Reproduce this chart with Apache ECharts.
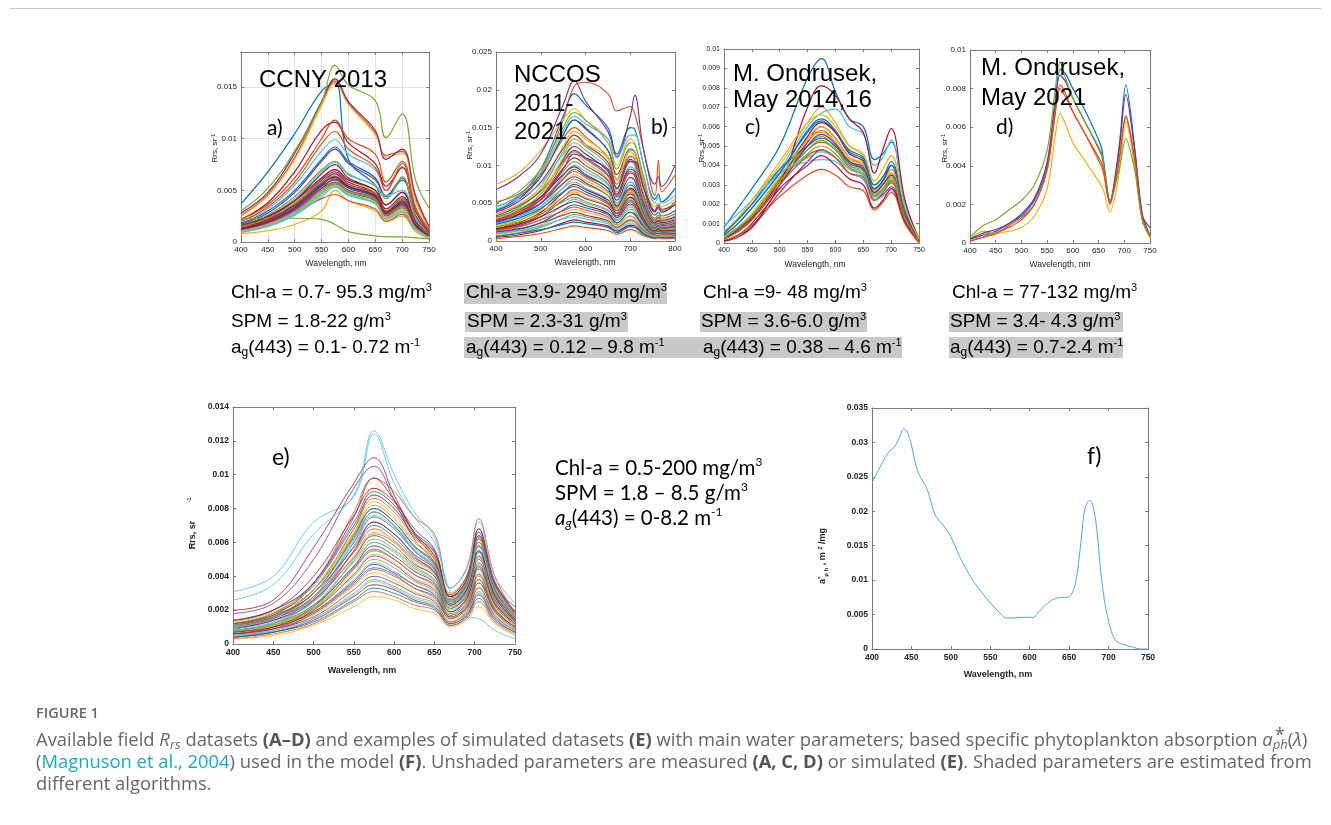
<!DOCTYPE html>
<html>
<head>
<meta charset="utf-8">
<title>Figure 1</title>
<script src="https://cdn.jsdelivr.net/npm/echarts@6/dist/echarts.min.js"></script>
<style>
  html, body { margin: 0; padding: 0; background: #fff; }
  #fig { width: 1331px; height: 825px; }
</style>
</head>
<body>
<div id="fig"></div>
<script>
// all Rrs / absorption values are in units of 1e-4 (labels divide back)

// a) CCNY 2013
const WL_A = [400, 450, 500, 550, 575, 600, 650, 670, 700, 725, 750];
const RRS_A = [
  [37, 68, 105, 146, 154, 80, 55, 36, 48, 20, 10],
  [26, 46, 82, 135, 156, 135, 106, 84, 88, 42, 14],
  [25, 45, 80, 132, 154, 133, 104, 82, 86, 40, 13],
  [28, 48, 86, 136, 158, 136, 108, 80, 90, 45, 15],
  [30, 52, 88, 135, 171, 152, 137, 101, 124, 60, 33],
  [20, 32, 55, 88, 99, 85, 70, 50, 73, 30, 10],
  [22, 38, 68, 108, 116, 96, 76, 54, 72, 30, 10],
  [18, 30, 50, 80, 92, 78, 62, 44, 60, 25, 8],
  [22, 36, 62, 100, 118, 100, 85, 58, 78, 34, 12],
  [14, 22, 38, 62, 70, 60, 48, 30, 40, 18, 6],
  [17, 28, 48, 78, 90, 76, 60, 45, 62, 26, 9],
  [16, 26, 44, 70, 78, 66, 54, 42, 63, 24, 8],
  [15, 25, 42, 68, 77, 65, 55, 45, 50, 22, 8],
  [15, 24, 40, 66, 75, 62, 50, 36, 48, 20, 7],
  [12, 20, 34, 56, 63, 54, 45, 28, 38, 16, 6],
  [20, 34, 58, 95, 107, 90, 72, 50, 76, 32, 11],
  [8, 11, 17, 30, 50, 40, 30, 20, 25, 10, 4],
  [13, 22, 37, 60, 68, 58, 47, 30, 42, 17, 6],
  [22, 23, 23, 22, 17, 10, 6, 5, 5, 4, 3],
  [11, 18, 30, 50, 58, 50, 42, 27, 36, 15, 5],
  [14, 22, 36, 58, 66, 56, 46, 29, 40, 17, 7],
  [10, 16, 28, 48, 56, 48, 40, 25, 33, 14, 5],
  [12, 18, 28, 42, 46, 40, 32, 20, 27, 12, 5],
  [9, 15, 26, 46, 55, 47, 38, 24, 32, 13, 4],
  [13, 21, 35, 57, 62, 53, 44, 28, 37, 16, 6],
  [11, 17, 29, 50, 57, 49, 41, 26, 34, 15, 5],
  [10, 15, 26, 44, 53, 45, 37, 23, 30, 13, 4],
  [16, 25, 40, 62, 70, 60, 50, 32, 44, 19, 8],
  [12, 19, 32, 54, 60, 52, 43, 27, 36, 15, 6],
  [14, 20, 33, 52, 58, 50, 42, 26, 35, 16, 7],
  [11, 17, 28, 48, 55, 47, 38, 24, 31, 13, 5],
  [12, 19, 31, 52, 61, 53, 44, 28, 38, 16, 6],
  [15, 23, 37, 58, 64, 55, 46, 30, 41, 18, 7],
  [10, 16, 27, 47, 54, 46, 37, 22, 29, 12, 4],
  [13, 20, 33, 55, 63, 54, 45, 29, 39, 17, 6]
];

// b) NCCOS 2011-2021
const WL_B = [400, 450, 500, 550, 575, 600, 650, 670, 700, 710, 730, 755, 763, 770, 800];
const RRS_B = [
  [45, 60, 95, 165, 195, 180, 150, 115, 150, 148, 100, 55, 62, 52, 70],
  [40, 55, 90, 160, 205, 210, 195, 172, 178, 168, 120, 60, 107, 65, 87],
  [75, 90, 120, 160, 175, 160, 135, 100, 135, 130, 85, 40, 45, 38, 50],
  [68, 85, 115, 180, 212, 185, 145, 112, 165, 193, 120, 75, 85, 72, 100],
  [50, 65, 95, 150, 170, 160, 130, 95, 130, 128, 85, 40, 46, 40, 52],
  [45, 60, 90, 145, 165, 155, 135, 110, 140, 140, 100, 50, 58, 50, 60],
  [40, 55, 85, 140, 160, 150, 120, 88, 120, 118, 78, 38, 44, 38, 48],
  [40, 58, 85, 140, 160, 148, 120, 82, 122, 118, 70, 34, 38, 33, 40],
  [52, 62, 88, 135, 150, 138, 110, 75, 112, 108, 62, 30, 34, 30, 36],
  [35, 48, 72, 125, 145, 135, 112, 80, 118, 112, 60, 28, 32, 28, 33],
  [38, 52, 78, 122, 140, 128, 104, 70, 108, 104, 58, 27, 31, 27, 32],
  [30, 44, 68, 118, 135, 125, 100, 68, 106, 100, 55, 26, 30, 26, 30],
  [42, 55, 76, 115, 130, 120, 95, 65, 98, 95, 52, 25, 28, 25, 30],
  [28, 40, 62, 108, 125, 115, 92, 62, 95, 92, 50, 24, 27, 24, 28],
  [33, 46, 66, 105, 120, 110, 88, 58, 90, 86, 46, 22, 25, 22, 26],
  [25, 36, 58, 102, 118, 108, 86, 60, 92, 88, 48, 22, 26, 22, 25],
  [36, 48, 68, 102, 115, 104, 82, 54, 84, 80, 42, 20, 24, 20, 24],
  [27, 38, 58, 96, 110, 100, 80, 54, 84, 80, 42, 20, 23, 20, 23],
  [30, 40, 58, 92, 105, 96, 76, 50, 78, 74, 40, 19, 22, 19, 22],
  [22, 32, 50, 86, 100, 92, 74, 50, 78, 74, 40, 19, 22, 19, 21],
  [31, 42, 58, 88, 98, 88, 70, 46, 70, 66, 35, 17, 20, 17, 20],
  [24, 34, 50, 82, 95, 86, 70, 47, 74, 70, 37, 17, 20, 17, 19],
  [28, 38, 54, 82, 92, 84, 66, 44, 68, 64, 34, 16, 19, 16, 18],
  [20, 30, 46, 76, 88, 80, 64, 43, 66, 62, 33, 15, 18, 15, 17],
  [26, 35, 50, 76, 85, 77, 60, 40, 62, 58, 31, 14, 17, 14, 16],
  [18, 27, 42, 70, 82, 75, 60, 41, 64, 60, 32, 15, 17, 15, 16],
  [24, 32, 46, 70, 78, 70, 55, 36, 56, 52, 28, 13, 15, 13, 15],
  [16, 24, 38, 64, 75, 68, 54, 37, 58, 54, 29, 13, 16, 13, 14],
  [22, 30, 43, 65, 72, 65, 51, 33, 52, 48, 26, 12, 14, 12, 13],
  [15, 22, 35, 58, 68, 62, 49, 34, 54, 50, 27, 12, 14, 12, 13],
  [20, 28, 40, 58, 65, 58, 46, 30, 47, 44, 24, 11, 13, 11, 12],
  [14, 20, 32, 54, 62, 56, 45, 31, 49, 46, 25, 11, 13, 11, 12],
  [18, 25, 36, 52, 58, 52, 41, 27, 42, 39, 21, 10, 11, 10, 11],
  [12, 18, 28, 47, 55, 50, 40, 28, 45, 42, 22, 10, 12, 10, 11],
  [16, 22, 32, 47, 52, 47, 37, 24, 38, 35, 19, 9, 10, 9, 10],
  [10, 15, 24, 41, 48, 44, 35, 24, 38, 36, 19, 8, 10, 8, 9],
  [14, 19, 28, 40, 45, 41, 32, 21, 33, 30, 16, 8, 9, 8, 9],
  [9, 13, 21, 36, 42, 38, 30, 21, 33, 31, 16, 7, 9, 7, 8],
  [12, 16, 24, 34, 38, 34, 27, 18, 28, 26, 14, 6, 7, 6, 7],
  [7, 11, 18, 30, 35, 32, 25, 17, 27, 25, 13, 6, 7, 6, 6],
  [10, 14, 20, 29, 32, 29, 23, 15, 24, 22, 12, 5, 6, 5, 6],
  [5, 8, 14, 24, 28, 25, 20, 13, 21, 20, 10, 4, 5, 4, 5],
  [6, 10, 15, 22, 25, 23, 18, 11, 19, 18, 9, 4, 5, 4, 4],
  [3, 6, 10, 17, 20, 18, 14, 9, 15, 14, 7, 3, 4, 3, 3],
  [30, 42, 62, 110, 135, 128, 110, 82, 120, 118, 80, 45, 50, 46, 55],
  [25, 35, 55, 95, 115, 110, 95, 70, 105, 105, 70, 40, 48, 42, 48]
];

// c) M. Ondrusek, May 2014,16
const WL_C = [400, 425, 450, 500, 550, 575, 600, 625, 650, 670, 685, 700, 725, 750];
const RRS_C = [
  [8, 18, 28, 50, 85, 95, 78, 64, 60, 43, 46, 52, 20, 2],
  [3, 8, 14, 33, 52, 58, 52, 42, 38, 26, 30, 36, 14, 1],
  [5, 12, 22, 40, 62, 70, 62, 50, 45, 30, 34, 40, 16, 2],
  [2, 6, 12, 30, 52, 60, 54, 44, 40, 28, 32, 38, 15, 1],
  [3, 8, 15, 34, 50, 55, 49, 40, 36, 25, 28, 33, 13, 1],
  [6, 12, 20, 38, 60, 67, 69, 60, 56, 40, 44, 53, 20, 2],
  [1, 4, 10, 30, 70, 81, 76, 64, 57, 36, 48, 59, 22, 2],
  [4, 10, 18, 36, 57, 63, 57, 48, 44, 30, 34, 42, 17, 1],
  [2, 7, 14, 32, 48, 52, 48, 39, 35, 24, 27, 32, 12, 1],
  [4, 10, 18, 36, 54, 60, 54, 44, 41, 28, 32, 38, 15, 1],
  [1, 4, 8, 26, 42, 48, 44, 36, 33, 22, 25, 29, 11, 1],
  [2, 6, 13, 32, 46, 50, 46, 38, 35, 25, 28, 32, 12, 1],
  [6, 12, 20, 36, 42, 43, 42, 36, 33, 22, 24, 27, 10, 1],
  [2, 6, 12, 32, 55, 62, 57, 46, 42, 27, 32, 40, 16, 1],
  [5, 12, 20, 38, 50, 54, 50, 41, 38, 26, 30, 35, 14, 1],
  [1, 4, 9, 24, 35, 38, 35, 29, 27, 17, 21, 26, 10, 0],
  [3, 8, 15, 34, 53, 57, 52, 43, 40, 27, 31, 36, 14, 1],
  [2, 7, 13, 30, 50, 56, 51, 42, 39, 26, 30, 35, 14, 1],
  [3, 8, 14, 32, 48, 53, 48, 40, 37, 24, 28, 34, 13, 1],
  [9, 15, 22, 36, 44, 47, 44, 38, 35, 23, 27, 31, 12, 1],
  [1, 3, 8, 28, 40, 45, 40, 33, 30, 18, 22, 28, 11, 1],
  [4, 10, 18, 36, 58, 64, 58, 47, 43, 28, 32, 40, 16, 1],
  [2, 6, 12, 30, 45, 48, 44, 36, 34, 22, 26, 31, 12, 1],
  [6, 13, 22, 42, 62, 66, 60, 50, 46, 32, 38, 45, 18, 2]
];

// d) M. Ondrusek, May 2021
const WL_D = [400, 425, 450, 475, 500, 525, 550, 565, 575, 585, 600, 625, 655, 660, 672, 690, 703, 720, 735, 750];
const RRS_D = [
  [2, 4, 6, 10, 14, 22, 40, 70, 90, 88, 80, 68, 50, 42, 22, 50, 82, 50, 15, 4],
  [1, 3, 5, 8, 12, 20, 38, 66, 82, 78, 68, 56, 40, 36, 20, 42, 65, 42, 12, 3],
  [2, 6, 5, 6, 8, 14, 28, 54, 67, 62, 52, 42, 30, 27, 16, 36, 63, 40, 12, 3],
  [2, 5, 7, 10, 15, 23, 42, 72, 87, 84, 75, 62, 46, 40, 21, 48, 77, 48, 14, 8],
  [3, 9, 12, 17, 22, 30, 48, 78, 94, 86, 75, 62, 47, 40, 22, 38, 54, 38, 12, 3],
  [1, 3, 5, 9, 13, 20, 38, 66, 80, 76, 68, 56, 42, 38, 21, 44, 66, 44, 13, 4]
];
const COLORS_D = ['#0072BD', '#D95319', '#EDB120', '#7E2F8E', '#77AC30', '#D95319'];

// e) simulated Rrs
const WL_E = [400, 450, 500, 550, 575, 600, 625, 650, 670, 690, 705, 725, 750];
const RRS_E = [
  [10, 15, 28, 60, 78, 70, 55, 45, 28, 35, 68, 35, 22],
  [13, 20, 36, 78, 98, 90, 75, 65, 33, 45, 74, 40, 18],
  [12, 18, 32, 68, 88, 80, 65, 52, 30, 40, 60, 32, 16],
  [9, 14, 25, 55, 72, 65, 52, 42, 25, 32, 55, 28, 14],
  [8, 12, 22, 50, 65, 60, 48, 40, 24, 30, 52, 26, 13],
  [31, 40, 72, 87, 124, 95, 75, 60, 30, 16, 15, 8, 3],
  [20, 26, 57, 95, 110, 88, 65, 50, 25, 35, 62, 30, 15],
  [11, 17, 30, 64, 80, 72, 58, 47, 28, 36, 62, 32, 17],
  [10, 15, 27, 58, 75, 68, 55, 45, 26, 34, 58, 30, 16],
  [11, 16, 30, 65, 92, 82, 66, 54, 30, 40, 66, 35, 20],
  [18, 24, 50, 92, 105, 85, 62, 48, 24, 33, 58, 28, 14],
  [7, 11, 20, 45, 60, 55, 45, 38, 22, 28, 48, 24, 12],
  [26, 35, 65, 88, 126, 100, 78, 63, 33, 44, 72, 40, 24],
  [12, 18, 36, 75, 98, 85, 66, 52, 28, 38, 64, 32, 16],
  [14, 20, 36, 72, 90, 82, 66, 55, 28, 38, 66, 36, 18],
  [10, 16, 32, 68, 86, 78, 63, 52, 27, 37, 63, 34, 17],
  [13, 19, 34, 66, 84, 76, 61, 51, 27, 36, 62, 33, 17],
  [9, 15, 30, 63, 80, 72, 58, 48, 26, 35, 60, 32, 16],
  [12, 18, 32, 62, 78, 70, 57, 47, 25, 34, 58, 31, 16],
  [8, 13, 28, 60, 75, 68, 55, 46, 24, 33, 57, 30, 15],
  [11, 16, 30, 57, 72, 65, 53, 44, 23, 32, 55, 29, 15],
  [8, 12, 26, 55, 70, 63, 51, 43, 23, 31, 54, 28, 14],
  [10, 15, 28, 54, 68, 61, 50, 42, 22, 30, 52, 27, 14],
  [7, 12, 25, 52, 66, 60, 49, 41, 22, 30, 51, 27, 13],
  [9, 14, 26, 51, 64, 58, 47, 40, 21, 29, 50, 26, 13],
  [7, 11, 23, 49, 62, 56, 46, 38, 21, 28, 48, 25, 12],
  [9, 13, 25, 48, 60, 54, 44, 37, 20, 27, 47, 25, 12],
  [6, 10, 22, 46, 58, 52, 43, 36, 19, 27, 46, 24, 12],
  [8, 12, 23, 45, 56, 50, 41, 35, 19, 26, 45, 23, 11],
  [6, 10, 21, 44, 55, 50, 41, 34, 18, 25, 44, 23, 11],
  [8, 12, 22, 42, 53, 48, 39, 33, 18, 25, 42, 22, 11],
  [6, 9, 20, 41, 52, 47, 38, 32, 17, 24, 41, 21, 10],
  [7, 11, 21, 40, 50, 45, 37, 31, 17, 23, 40, 21, 10],
  [5, 9, 19, 38, 48, 43, 35, 30, 16, 22, 38, 20, 10],
  [7, 10, 19, 37, 47, 42, 35, 29, 16, 22, 38, 20, 10],
  [5, 8, 18, 36, 45, 41, 33, 28, 15, 21, 36, 19, 9],
  [6, 9, 18, 35, 44, 40, 33, 27, 15, 21, 36, 19, 9],
  [5, 8, 17, 34, 42, 38, 31, 26, 14, 20, 34, 18, 9],
  [6, 9, 16, 32, 40, 36, 30, 25, 13, 19, 33, 17, 8],
  [4, 7, 15, 30, 38, 34, 28, 24, 13, 18, 31, 16, 8],
  [5, 8, 15, 29, 37, 33, 27, 23, 12, 17, 30, 16, 8],
  [4, 7, 14, 28, 35, 32, 26, 22, 12, 17, 29, 15, 7],
  [4, 7, 13, 26, 33, 30, 25, 21, 11, 16, 27, 14, 7],
  [3, 6, 12, 25, 31, 28, 23, 20, 11, 15, 25, 13, 6],
  [3, 5, 11, 22, 28, 26, 21, 18, 10, 14, 22, 12, 5],
  [12, 17, 35, 70, 88, 80, 64, 54, 28, 38, 64, 35, 18],
  [11, 16, 32, 65, 82, 74, 60, 50, 26, 36, 60, 33, 17],
  [10, 15, 30, 61, 76, 69, 56, 46, 25, 34, 58, 31, 16],
  [14, 20, 40, 76, 92, 84, 68, 56, 29, 40, 68, 37, 19]
];

// f) specific phytoplankton absorption a*ph (1e-4 m2/mg)
const WL_F = [400, 410, 420, 430, 435, 440, 445, 450, 455, 460, 470, 480, 490, 500, 510, 520, 530, 540, 550, 560,
  570, 580, 590, 600, 605, 610, 620, 630, 640, 648, 655, 660, 665, 670, 676, 680, 685, 690, 695, 700,
  705, 710, 720, 730, 740, 750];
const APH_F = [241, 264, 284, 296, 308, 320, 315, 296, 270, 253, 232, 195, 180, 163, 137, 115, 96, 81, 67, 55,
  45, 45, 46, 46, 46, 52, 64, 72, 75, 75, 84, 108, 156, 204, 216, 209, 175, 113, 69, 40,
  21, 11, 6, 3, 0, 0];

const MATLAB = ['#0072BD', '#D95319', '#EDB120', '#7E2F8E', '#77AC30', '#4DBEEE', '#A2142F'];
const SANS = '"Liberation Sans", Arial, sans-serif';
const CAL = 'Lato, "Open Sans", sans-serif';
const OPEN = '"Open Sans", sans-serif';

const grids = [], xAxes = [], yAxes = [], series = [];
const fmt = v => String(+(v / 1e4).toFixed(4));

function panel(p) {
  const gi = grids.length;
  grids.push({ left: p.box[0], top: p.box[1], width: p.box[2], height: p.box[3] });
  const lab = { fontSize: p.fs, color: '#222', fontWeight: p.fw || 'normal', fontFamily: SANS, margin: 4 };
  const frame = { show: true, onZero: false, lineStyle: { color: '#7a7a7a', width: 1 } };
  const tick = { show: true, inside: true, length: 3, lineStyle: { color: '#7a7a7a' } };
  const split = { show: !!p.gridLines, lineStyle: { color: '#e2e2e2', width: 1 } };
  const xi = xAxes.length, yi = yAxes.length;
  const xs = { type: 'value', gridIndex: gi, min: p.x[0], max: p.x[1], interval: p.x[2], axisLine: frame, axisTick: tick };
  const ys = { type: 'value', gridIndex: gi, min: 0, max: p.y[0], interval: p.y[1], axisLine: frame, axisTick: tick };
  xAxes.push(Object.assign({}, xs, { position: 'bottom', splitLine: split, axisLabel: lab }));
  xAxes.push(Object.assign({}, xs, { position: 'top', splitLine: { show: false }, axisLabel: { show: false } }));
  yAxes.push(Object.assign({}, ys, { position: 'left', splitLine: split,
    axisLabel: Object.assign({}, lab, { formatter: fmt, showMaxLabel: p.showMax !== false }) }));
  yAxes.push(Object.assign({}, ys, { position: 'right', splitLine: { show: false }, axisLabel: { show: false } }));
  p.lines.forEach((vals, i) => {
    series.push({
      type: 'line', xAxisIndex: xi, yAxisIndex: yi, silent: true, symbol: 'none',
      smooth: p.smooth, animation: false, z: 2,
      data: p.wl.map((w, k) => [w, vals[k]]),
      lineStyle: { width: p.lw, color: p.colors ? p.colors[i % p.colors.length] : MATLAB[i % 7] }
    });
  });
}

panel({ box: [241, 52, 188, 190], x: [400, 750, 50], y: [184, 50], showMax: false, gridLines: true,
  fs: 8, wl: WL_A, lines: RRS_A, lw: 1.2, smooth: 0.4 });
panel({ box: [496, 52, 179, 189], x: [400, 800, 100], y: [250, 50],
  fs: 8, wl: WL_B, lines: RRS_B, lw: 1.1, smooth: 0.4 });
panel({ box: [724, 49, 195, 194], x: [400, 750, 50], y: [100, 10],
  fs: 7, wl: WL_C, lines: RRS_C, lw: 1.2, smooth: 0.4 });
panel({ box: [970, 50, 180, 193], x: [400, 750, 50], y: [100, 20],
  fs: 8, wl: WL_D, lines: RRS_D, colors: COLORS_D, lw: 1.2, smooth: 0.3 });
panel({ box: [233, 407, 282, 237], x: [400, 750, 50], y: [140, 20],
  fs: 8.5, fw: 'bold', wl: WL_E, lines: RRS_E, lw: 0.8, smooth: 0.4 });
panel({ box: [872, 408, 276, 241], x: [400, 750, 50], y: [350, 50],
  fs: 8.5, fw: 'bold', wl: WL_F, lines: [APH_F], colors: ['#4ea6de'], lw: 1, smooth: 0.3 });

function T(x, y, text, font, m) {
  m = m || {};
  return {
    type: 'text', x: x, y: y, rotation: m.rot || 0, silent: true, z: 10,
    style: {
      text: text, font: font, fill: m.fill || '#000',
      textAlign: m.align || 'left', align: m.align || 'left',
      textVerticalAlign: 'middle', verticalAlign: 'middle',
      lineHeight: m.lh, rich: m.rich
    }
  };
}
function R(x, y, w, h) {
  return { type: 'rect', silent: true, z: 1, shape: { x: x, y: y, width: w, height: h }, style: { fill: '#c9c9c9' } };
}

const ROW_RICH = {
  sup: { font: '11px ' + SANS, verticalAlign: 'top', lineHeight: 12 },
  sub: { font: '12px ' + SANS, verticalAlign: 'bottom', lineHeight: 13 }
};
const row = (x, y, s) => T(x, y, s, '19px ' + SANS, { rich: ROW_RICH, lh: 22 });
const SMALL_RICH = { s: { font: '6px ' + SANS, verticalAlign: 'top', lineHeight: 7, fill: '#222' } };
const yName = (x, y) => T(x, y, 'Rrs, sr{s|-1}', '8px ' + SANS, { rot: Math.PI / 2, align: 'center', fill: '#222', rich: SMALL_RICH, lh: 10 });
const xName = (x, y, f) => T(x, y, 'Wavelength, nm', f || '8.5px ' + SANS, { align: 'center', fill: '#222' });
const BIG = '24px ' + SANS, LBL = '21px ' + CAL;

const E_RICH = {
  it: { font: 'italic 20.5px ' + CAL, lineHeight: 24 },
  isub: { font: 'italic 13px ' + CAL, verticalAlign: 'bottom', lineHeight: 14 },
  sup: { font: '12px ' + CAL, verticalAlign: 'top', lineHeight: 12 }
};
const F_RICH = {
  sup: { font: 'bold 6px ' + SANS, verticalAlign: 'top', lineHeight: 7, fill: '#222' },
  sub: { font: 'bold 6px ' + SANS, verticalAlign: 'bottom', lineHeight: 7, fill: '#222' }
};

// caption: fonts per rich style, line 1 built from segments so the star can be placed over "ph"
const CS = 18.4;
const CAP_FONT = {
  n: CS + 'px ' + OPEN,
  it: 'italic ' + CS + 'px ' + OPEN,
  sub: 'italic ' + Math.round(CS * 0.68) + 'px ' + OPEN,
  b: 'bold ' + CS + 'px ' + OPEN,
  lk: CS + 'px ' + OPEN
};
const CAP_RICH = {
  it: { font: CAP_FONT.it, lineHeight: 22 },
  sub: { font: CAP_FONT.sub, verticalAlign: 'bottom', lineHeight: 14 },
  b: { font: CAP_FONT.b, fill: '#555', lineHeight: 22 },
  lk: { font: CAP_FONT.lk, fill: '#1aaac4', lineHeight: 22 }
};
const CAP_LINE1 = [
  ['n', 'Available field '], ['it', 'R'], ['sub', 'rs'], ['n', ' datasets '], ['b', '(A\u2013D)'],
  ['n', ' and examples of simulated datasets '], ['b', '(E)'],
  ['n', ' with main water parameters; based specific phytoplankton absorption '],
  ['it', 'a'], ['sub', 'ph'], ['n', '('], ['it', '\u03bb'], ['n', ')']
];
const richOf = segs => segs.map(s => s[0] === 'n' ? s[1] : '{' + s[0] + '|' + s[1] + '}').join('');
const mctx = document.createElement('canvas').getContext('2d');
function segWidth(segs) {
  return segs.reduce((acc, s) => { mctx.font = CAP_FONT[s[0]]; return acc + mctx.measureText(s[1]).width; }, 0);
}
const starX = 36 + segWidth(CAP_LINE1.slice(0, 9)) + 2;

const graphics = [
  { type: 'line', silent: true, shape: { x1: 10, y1: 8.5, x2: 1321, y2: 8.5 }, style: { stroke: '#c8c8c8', lineWidth: 1 } },
  // shaded (estimated) parameters
  R(464, 283, 203, 21), R(465, 312, 163, 20), R(464, 337, 438, 21),
  R(700, 312, 167, 20), R(949, 312, 174, 20), R(949, 337, 174, 21),
  // panel titles
  T(259, 80, 'CCNY 2013', BIG), T(267, 128, 'a)', LBL),
  T(514, 75, 'NCCOS', BIG), T(514, 104, '2011-', BIG), T(514, 132, '2021', BIG), T(651, 127, 'b)', LBL),
  T(733, 74, 'M. Ondrusek,', BIG), T(733, 100, 'May 2014,16', BIG), T(745, 127, 'c)', LBL),
  T(981, 68, 'M. Ondrusek,', BIG), T(981, 98, 'May 2021', BIG), T(996, 127, 'd)', LBL),
  T(272, 458, 'e)', '23px ' + CAL), T(1087, 457, 'f)', '23px ' + CAL),
  // axis names
  yName(215, 148), yName(470, 145), yName(702, 148), yName(945, 148),
  xName(336, 264), xName(585, 263), xName(815, 265), xName(1060, 265),
  xName(362, 671, 'bold 9px ' + SANS), xName(998, 675, 'bold 9px ' + SANS),
  T(193, 535, 'Rrs, sr', 'bold 9px ' + SANS, { rot: Math.PI / 2, align: 'center', fill: '#222' }),
  T(190, 500, '-1', 'bold 5px ' + SANS, { rot: Math.PI / 2, align: 'center', fill: '#222' }),
  T(823, 556, 'a{sup|*}{sub|p h} , m {sup|2} /mg', 'bold 9px ' + SANS, { rot: Math.PI / 2, align: 'center', fill: '#222', rich: F_RICH, lh: 12 }),
  // water parameters
  row(231, 293, 'Chl-a = 0.7- 95.3 mg/m{sup|3}'),
  row(231, 322, 'SPM = 1.8-22 g/m{sup|3}'),
  row(231, 348, 'a{sub|g}(443) = 0.1- 0.72 m{sup|-1}'),
  row(466, 293, 'Chl-a =3.9- 2940 mg/m{sup|3}'),
  row(467, 322, 'SPM = 2.3-31 g/m{sup|3}'),
  row(466, 348, 'a{sub|g}(443) = 0.12 \u2013 9.8 m{sup|-1}'),
  row(703, 293, 'Chl-a =9- 48 mg/m{sup|3}'),
  row(701, 322, 'SPM = 3.6-6.0 g/m{sup|3}'),
  row(703, 348, 'a{sub|g}(443) = 0.38 \u2013 4.6 m{sup|-1}'),
  row(952, 293, 'Chl-a = 77-132 mg/m{sup|3}'),
  row(950, 322, 'SPM = 3.4- 4.3 g/m{sup|3}'),
  row(950, 348, 'a{sub|g}(443) = 0.7-2.4 m{sup|-1}'),
  T(555, 468, 'Chl-a = 0.5-200 mg/m{sup|3}', '20.5px ' + CAL, { rich: E_RICH, lh: 24 }),
  T(555, 493, 'SPM = 1.8 \u2013 8.5 g/m{sup|3}', '20.5px ' + CAL, { rich: E_RICH, lh: 24 }),
  T(555, 518, '{it|a}{isub|g}(443) = 0-8.2 m{sup|-1}', '20.5px ' + CAL, { rich: E_RICH, lh: 24 }),
  // caption
  T(36, 714, 'FIGURE 1', '600 14.5px ' + OPEN, { fill: '#666' }),
  T(36, 741, richOf(CAP_LINE1), CAP_FONT.n, { fill: '#666', rich: CAP_RICH, lh: 22 }),
  T(starX, 736, '*', CS + 'px ' + OPEN, { fill: '#666' }),
  T(36, 763, '({lk|Magnuson et al., 2004}) used in the model {b|(F)}. Unshaded parameters are measured {b|(A, C, D)} or simulated {b|(E)}. Shaded parameters are estimated from',
    CAP_FONT.n, { fill: '#666', rich: CAP_RICH, lh: 22 }),
  T(36, 785, 'different algorithms.', CAP_FONT.n, { fill: '#666' })
];

const chart = echarts.init(document.getElementById('fig'), null, { renderer: 'canvas' });
chart.setOption({
  animation: false,
  backgroundColor: '#fff',
  grid: grids,
  xAxis: xAxes,
  yAxis: yAxes,
  series: series,
  graphic: { elements: graphics }
});
</script>
</body>
</html>
